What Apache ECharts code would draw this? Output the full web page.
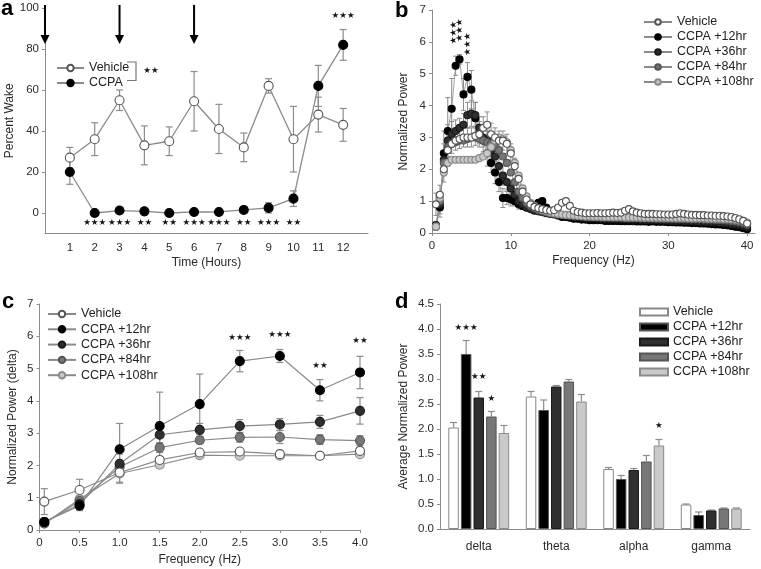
<!DOCTYPE html>
<html><head><meta charset="utf-8">
<script src="https://cdn.jsdelivr.net/npm/echarts@6/dist/echarts.min.js"></script>
<style>html,body{margin:0;padding:0;background:#fff}#c{width:761px;height:569px}</style>
</head><body><div id="c"></div>
<script>
// ---------- Panel a: Percent wake ----------
const hours = [1,2,3,4,5,6,7,8,9,10,11,12];
const vehicleWake    = [27,36,55,33,35,54.5,41,32,62,36,48,43];
const vehicleWakeErr = [5,8,5,9.5,7,14.5,12,7,3.5,16,8.5,8];
const ccpaWake       = [20,0,1.2,0.8,0,0.5,0.5,1.5,2.5,7,62,82];
const ccpaWakeErr    = [6,0.5,1,0.5,0.5,0.5,0.5,1.5,2.5,3.8,10,7.5];
const wakeStars      = ['','★★★','★★★','★★','★★','★★★','★★★','★★','★★★','★★','','★★★'];
const wakeStarY      = [null,-5,-5,-5,-5,-5,-5,-5,-5,-5,null,96];
const injectionHours = [0,3,6];
const wakeTicks = [0,20,40,60,80,100];

// ---------- Panel b: spectra ----------
const freqB = [
 0.5,1,1.5,2,2.5,3,3.5,4,4.5,5, 5.5,6,6.5,7,7.5,8,8.5,9,9.5,10,
 10.5,11,11.5,12,12.5,13,13.5,14,14.5,15, 15.5,16,16.5,17,17.5,18,18.5,19,19.5,20,
 20.5,21,21.5,22,22.5,23,23.5,24,24.5,25, 25.5,26,26.5,27,27.5,28,28.5,29,29.5,30,
 30.5,31,31.5,32,32.5,33,33.5,34,34.5,35, 35.5,36,36.5,37,37.5,38,38.5,39,39.5,40];
const specVehicle = [
 0.9,1.2,2.0,2.6,2.8,2.9,2.95,3.0,3.0,3.0, 3.05,3.1,3.3,3.4,3.1,3.0,2.9,2.9,2.8,2.5,
 2.1,1.7,1.3,1.05,0.9,0.82,0.78,0.75,0.72,0.7, 0.72,0.8,0.95,1.0,0.85,0.7,0.66,0.64,0.62,0.62,
 0.62,0.63,0.62,0.62,0.63,0.64,0.63,0.64,0.7,0.75, 0.68,0.64,0.62,0.6,0.6,0.6,0.59,0.59,0.58,0.58,
 0.58,0.6,0.62,0.6,0.58,0.57,0.57,0.56,0.56,0.55, 0.55,0.54,0.54,0.53,0.52,0.5,0.47,0.43,0.38,0.3];
const spec12 = [
 0.2,0.8,2.5,3.2,3.9,5.25,5.45,4.35,4.9,4.5, 3.6,3.1,2.9,2.5,2.2,1.9,1.6,1.1,1.1,1.05,
 1.0,0.9,0.85,0.8,0.8,0.85,0.95,1.0,0.8,0.65, 0.6,0.55,0.5,0.5,0.48,0.45,0.45,0.42,0.42,0.4,
 0.4,0.4,0.4,0.38,0.38,0.38,0.38,0.37,0.37,0.37, 0.37,0.36,0.36,0.36,0.35,0.36,0.35,0.35,0.35,0.34,
 0.34,0.33,0.33,0.32,0.32,0.31,0.31,0.3,0.3,0.29, 0.28,0.27,0.27,0.25,0.24,0.22,0.2,0.18,0.15,0.12];
const spec36 = [
 0.25,0.9,2.3,2.9,3.1,3.2,3.3,3.4,3.7,3.75, 3.7,3.3,3.0,2.9,2.6,2.4,2.1,1.8,1.6,1.4,
 1.2,1.0,0.9,0.8,0.75,0.7,0.68,0.65,0.62,0.6, 0.58,0.56,0.55,0.54,0.52,0.5,0.5,0.48,0.47,0.46,
 0.46,0.45,0.45,0.44,0.44,0.44,0.43,0.43,0.43,0.42, 0.42,0.42,0.41,0.41,0.41,0.4,0.4,0.4,0.39,0.39,
 0.38,0.38,0.38,0.37,0.37,0.36,0.36,0.35,0.35,0.34, 0.33,0.33,0.32,0.31,0.3,0.28,0.27,0.25,0.22,0.18];
const spec84 = [
 0.2,1.0,2.2,2.7,2.8,2.85,2.9,2.9,2.95,3.0, 3.0,2.95,2.9,2.85,2.8,2.7,2.6,2.4,2.2,1.9,
 1.6,1.3,1.1,0.95,0.85,0.78,0.72,0.68,0.65,0.62, 0.6,0.58,0.57,0.56,0.55,0.54,0.53,0.52,0.51,0.5,
 0.5,0.5,0.49,0.49,0.49,0.48,0.48,0.48,0.47,0.47, 0.47,0.47,0.46,0.46,0.46,0.46,0.45,0.45,0.45,0.45,
 0.45,0.44,0.44,0.44,0.44,0.43,0.43,0.43,0.42,0.42, 0.42,0.41,0.41,0.4,0.39,0.38,0.36,0.34,0.31,0.27];
const spec108 = [
 0.2,1.1,1.9,2.2,2.3,2.3,2.3,2.3,2.3,2.3, 2.3,2.35,2.4,2.5,2.7,2.9,3.0,2.95,2.85,2.6,
 2.2,1.8,1.4,1.15,0.95,0.85,0.78,0.72,0.68,0.64, 0.62,0.6,0.58,0.57,0.56,0.55,0.54,0.53,0.52,0.52,
 0.51,0.51,0.51,0.5,0.5,0.5,0.5,0.5,0.49,0.49, 0.49,0.49,0.49,0.48,0.48,0.48,0.48,0.48,0.48,0.47,
 0.47,0.47,0.47,0.47,0.46,0.46,0.46,0.46,0.46,0.45, 0.45,0.45,0.45,0.44,0.44,0.43,0.42,0.4,0.38,0.33];
// SEM for the first 24 bins (0.5–12 Hz)
const specVehicleErr = [0.35,0.3,0.4,0.4,0.3,0.3,0.3,0.3,0.3,0.3,0.3,0.3,0.35,0.4,0.35,0.3,0.3,0.3,0.3,0.3,0.25,0.2,0.15,0.1];
const spec12Err = [0.1,0.3,0.7,1.05,0.95,0.3,0.15,0.5,0.45,0.6,0.5,0.4,0.35,0.4,0.3,0.35,0.3,0.3,0.2,0.2,0.15,0.15,0.1,0.1];
const spec36Err = [0.1,0.3,0.5,0.5,0.4,0.35,0.3,0.35,0.4,0.4,0.4,0.35,0.3,0.3,0.3,0.25,0.3,0.3,0.25,0.2,0.2,0.15,0.1,0.1];
const specStars = [[2.7,6.29,'★★★'],[3.5,6.37,'★★★'],[4.55,5.93,'★★★']];

// ---------- Panel c: delta band ----------
const freqC   = [0.06,0.5,1,1.5,2,2.5,3,3.5,4];
const cVehicle = [0.88,1.24,1.78,2.17,2.4,2.43,2.35,2.3,2.45];
const cVehicleErr = [0.4,0.33,0.3,0.1,0.08,0.08,0.1,0.08,0.08];
const c12  = [0.25,0.75,2.5,3.22,3.9,5.23,5.39,4.33,4.88];
const c12Err = [0.05,0.15,0.8,1.05,0.93,0.33,0.2,0.33,0.5];
const c36  = [0.25,0.8,2.05,2.95,3.1,3.22,3.27,3.35,3.69];
const c36Err = [0.05,0.15,0.3,0.25,0.2,0.2,0.18,0.2,0.41];
const c84  = [0.2,0.9,1.95,2.55,2.78,2.87,2.88,2.8,2.77];
const c84Err = [0.05,0.15,0.2,0.15,0.1,0.15,0.2,0.15,0.15];
const c108 = [0.2,0.95,1.75,2.02,2.32,2.3,2.3,2.3,2.35];
const c108Err = [0.05,0.1,0.3,0.1,0.08,0.08,0.08,0.08,0.08];
const cStars = [[2.5,5.95,'★★★'],[3.0,6.06,'★★★'],[3.5,5.08,'★★'],[4.0,5.86,'★★']];

// ---------- Panel d: band averages ----------
const bands = ['delta','theta','alpha','gamma'];
const dVehicle = [2.03,2.65,1.2,0.49];   const dVehicleErr = [0.1,0.1,0.03,0.01];
const d12      = [3.5,2.38,1.0,0.28];    const d12Err = [0.27,0.2,0.07,0.06];
const d36      = [2.63,2.85,1.18,0.37];  const d36Err = [0.12,0.02,0.03,0.01];
const d84      = [2.25,2.95,1.35,0.41];  const d84Err = [0.1,0.04,0.12,0.01];
const d108     = [1.92,2.55,1.67,0.41];  const d108Err = [0.15,0.14,0.12,0.01];
// [bandIndex, barIndex, y, text]
const dStars = [[0,1,4.02,'★★★'],[0,2,3.05,'★★'],[0,3,2.6,'★'],[2,4,2.07,'★']];

const groupNames = ['Vehicle','CCPA +12hr','CCPA +36hr','CCPA +84hr','CCPA +108hr'];

// ---------- helpers ----------
const FONT = '"Liberation Sans", Arial, sans-serif';
const AX = '#8c8c8c', TXT = '#2b2b2b', ERR = '#8c8c8c';
const STARFONT = '8.6px "DejaVu Sans"';
const zip = (xs, ys) => xs.map((x,i)=>[x, ys[i]]);

function errSeries(g, xs, ys, es, opt) {
  opt = opt || {};
  const data = es.map((e,i)=>[xs[i], opt.upOnly ? ys[i] : ys[i]-e, ys[i]+e]);
  return {type:'custom', xAxisIndex:g, yAxisIndex:g, data, z: opt.z || 1, silent:true,
    renderItem(params, api){
      const x = api.value(0);
      const a = api.coord([x, api.value(1)]), b = api.coord([x, api.value(2)]);
      const cx = a[0] + (opt.offset || 0), w = opt.cap || 3.5;
      const st = {stroke: ERR, lineWidth: opt.lw || 1.2};
      const ch = [
        {type:'line', shape:{x1:cx,y1:a[1],x2:cx,y2:b[1]}, style:st},
        {type:'line', shape:{x1:cx-w,y1:b[1],x2:cx+w,y2:b[1]}, style:st}];
      if (!opt.upOnly) ch.push({type:'line', shape:{x1:cx-w,y1:a[1],x2:cx+w,y2:a[1]}, style:st});
      return {type:'group', children:ch};
    }};
}
function starSeries(g, pts, opt) {
  opt = opt || {};
  return {type:'custom', xAxisIndex:g, yAxisIndex:g, data: pts.map(p=>[p[0],p[1]]), z:6, silent:true,
    renderItem(params, api){
      const p = api.coord([api.value(0), api.value(1)]);
      const dx = opt.offsets ? opt.offsets[params.dataIndex] : 0;
      return {type:'text', x:p[0]+dx, y:p[1], rotation: opt.rotate ? Math.PI/2 : 0,
        style:{text: pts[params.dataIndex][2], fill:'#111', font:STARFONT, align:'center', verticalAlign:'middle'}};
    }};
}
function lineSeries(name, g, xs, ys, fill, border, size, lw, z) {
  return {name, type:'line', xAxisIndex:g, yAxisIndex:g, data: zip(xs, ys),
    symbol:'circle', symbolSize:size, showSymbol:true,
    itemStyle:{color:fill, borderColor:border, borderWidth:1.1},
    lineStyle:{color:'#8a8a8a', width:lw}, emphasis:{disabled:true}, z: z||3, animation:false};
}
function valAxis(g, extra) {
  return Object.assign({gridIndex:g, type:'value', splitLine:{show:false},
    axisLine:{show:true, onZero:false, lineStyle:{color:AX, width:1}},
    axisTick:{show:true, length:3, lineStyle:{color:AX}},
    axisLabel:{color:TXT, fontSize:11.5, fontFamily:FONT, margin:6},
    nameTextStyle:{color:TXT, fontSize:12, fontFamily:FONT}}, extra);
}

// bar layout for panel d
const BW = 10.5, BG = 0.2, NB = 5;
const totalW = NB*BW + (NB-1)*BG*BW;
const barOff = i => -totalW/2 + i*BW*(1+BG) + BW/2;

const fills = ['#ffffff','#000000','#2f2f2f','#777777','#c9c9c9'];
const borders = ['#666666','#000000','#1a1a1a','#555555','#8a8a8a'];
const dSeriesVals = [dVehicle,d12,d36,d84,d108];
const dSeriesErr = [dVehicleErr,d12Err,d36Err,d84Err,d108Err];
const specVals = [specVehicle,spec12,spec36,spec84,spec108];
const cVals = [cVehicle,c12,c36,c84,c108];
const cErrs = [cVehicleErr,c12Err,c36Err,c84Err,c108Err];

const series = [];
// a
series.push(errSeries(0, hours, vehicleWake, vehicleWakeErr));
series.push(errSeries(0, hours, ccpaWake, ccpaWakeErr));
series.push(lineSeries('a::Vehicle', 0, hours, vehicleWake, '#fff', '#555', 9, 1.3, 4));
series.push(lineSeries('a::CCPA', 0, hours, ccpaWake, '#000', '#000', 9, 1.3, 3));
series.push(starSeries(0, hours.map((h,i)=>[h, wakeStarY[i], wakeStars[i]]).filter(p=>p[2])));
series.push({type:'custom', xAxisIndex:0, yAxisIndex:0, data: injectionHours.map(h=>[h]), z:7, silent:true,
  renderItem(params, api){
    const h = api.value(0);
    const top = api.coord([h, 101.5]), tip = api.coord([h, 82.5]);
    return {type:'group', children:[
      {type:'line', shape:{x1:top[0],y1:top[1],x2:tip[0],y2:tip[1]-7}, style:{stroke:'#000', lineWidth:2}},
      {type:'polygon', shape:{points:[[tip[0]-4.5,tip[1]-9],[tip[0]+4.5,tip[1]-9],[tip[0],tip[1]]]}, style:{fill:'#000'}}]};
  }});
// b
const order = [1,2,3,4,0];
order.forEach(k=>{
  series.push(lineSeries('b::'+groupNames[k], 1, freqB, specVals[k], fills[k], k===0?'#555':borders[k], 7, 0.8, 3));
});
series.push(errSeries(1, freqB, spec12, spec12Err, {cap:2.5, lw:1}));
series.push(errSeries(1, freqB, spec36, spec36Err, {cap:2.5, lw:1}));
series.push(errSeries(1, freqB, specVehicle, specVehicleErr, {cap:2.5, lw:1}));
series.push(starSeries(1, specStars, {rotate:true}));
// c
[0,1,2,3,4].forEach(k=>{
  series.push(errSeries(2, freqC, cVals[k], cErrs[k]));
});
[4,3,2,1,0].forEach(k=>{
  series.push(lineSeries('c::'+groupNames[k], 2, freqC, cVals[k], fills[k], k===0?'#555':borders[k], 9, 1.2, 3));
});
series.push(starSeries(2, cStars));
// d
[0,1,2,3,4].forEach(k=>{
  series.push({name:'d::'+groupNames[k], type:'bar', xAxisIndex:3, yAxisIndex:3, data:dSeriesVals[k],
    barWidth:BW, barGap:(BG*100)+'%', itemStyle:{color:fills[k], borderColor: k===0?'#888':borders[k]==='#000000'?'#555':borders[k], borderWidth:1},
    emphasis:{disabled:true}, z:2, animation:false});
  series.push(errSeries(3, [0,1,2,3], dSeriesVals[k], dSeriesErr[k], {upOnly:true, offset:barOff(k), cap:3.5}));
});
series.push(starSeries(3, dStars.map(s=>[s[0], s[2], s[3]]), {offsets: dStars.map(s=>barOff(s[1]))}));

const legendText = {color:'#222', fontSize:12.5, fontFamily:FONT, lineHeight:14};
const fmt = n => n.split('::')[1];

const option = {
  animation:false,
  textStyle:{fontFamily:FONT},
  grid:[
    {left:45, top:8, width:323, height:225.5},
    {left:432, top:10, width:323, height:223},
    {left:39.5, top:304, width:320.5, height:226},
    {left:440, top:304, width:310, height:225}
  ],
  xAxis:[
    valAxis(0, {min:0, max:13, axisTick:{show:false}, axisLabel:{color:TXT, fontSize:11.5, fontFamily:FONT, margin:8, customValues:hours},
      name:'Time (Hours)', nameLocation:'middle', nameGap:23}),
    valAxis(1, {min:0, max:41, axisTick:{show:true, length:3, lineStyle:{color:AX}, customValues:[0,10,20,30,40]},
      axisLabel:{color:TXT, fontSize:11.5, fontFamily:FONT, margin:7, customValues:[0,10,20,30,40]},
      name:'Frequency (Hz)', nameLocation:'middle', nameGap:22}),
    valAxis(2, {min:0, max:4, interval:0.5, axisLabel:{color:TXT, fontSize:11.5, fontFamily:FONT, margin:7, formatter:v=>v===0?'0':v.toFixed(1)},
      name:'Frequency (Hz)', nameLocation:'middle', nameGap:24}),
    {gridIndex:3, type:'category', data:bands, axisTick:{show:false},
      axisLine:{show:true, lineStyle:{color:AX}}, axisLabel:{color:TXT, fontSize:12, fontFamily:FONT, margin:12}}
  ],
  yAxis:[
    valAxis(0, {min:-10, max:100, axisTick:{show:true, length:3, lineStyle:{color:AX}, customValues:wakeTicks},
      axisLabel:{color:TXT, fontSize:11.5, fontFamily:FONT, margin:6, customValues:wakeTicks},
      name:'Percent Wake', nameLocation:'middle', nameGap:27, nameRotate:90}),
    valAxis(1, {min:0, max:7, interval:1, name:'Normalized Power', nameLocation:'middle', nameGap:22, nameRotate:90}),
    valAxis(2, {min:0, max:7, interval:1, name:'Normalized Power (delta)', nameLocation:'middle', nameGap:21, nameRotate:90}),
    valAxis(3, {min:0, max:4.5, interval:0.5, axisLabel:{color:TXT, fontSize:11.5, fontFamily:FONT, margin:6, formatter:v=>v.toFixed(1)},
      name:'Average Normalized Power', nameLocation:'middle', nameGap:30, nameRotate:90})
  ],
  legend:[
    {left:51, top:56, orient:'vertical', itemGap:1, itemWidth:27, itemHeight:8, textStyle:legendText, formatter:fmt,
      data:['a::Vehicle','a::CCPA'], selectedMode:false},
    {left:638, top:10, orient:'vertical', itemGap:1, itemWidth:28, itemHeight:7, textStyle:legendText, formatter:fmt,
      data:groupNames.map(n=>'b::'+n), selectedMode:false},
    {left:42, top:302, orient:'vertical', itemGap:1.3, itemWidth:28, itemHeight:8, textStyle:legendText, formatter:fmt,
      data:groupNames.map(n=>'c::'+n), selectedMode:false},
    {left:634, top:300, orient:'vertical', itemGap:1, itemWidth:28, itemHeight:7, icon:'rect', textStyle:legendText, formatter:fmt,
      data:groupNames.map(n=>'d::'+n), selectedMode:false}
  ],
  graphic:[
    {type:'text', left:1, top:-2, style:{text:'a', font:'bold 22px "Liberation Sans", Arial', fill:'#000'}},
    {type:'text', left:395, top:0, style:{text:'b', font:'bold 22px "Liberation Sans", Arial', fill:'#000'}},
    {type:'text', left:2, top:291, style:{text:'c', font:'bold 22px "Liberation Sans", Arial', fill:'#000'}},
    {type:'text', left:395, top:291, style:{text:'d', font:'bold 22px "Liberation Sans", Arial', fill:'#000'}},
    {type:'polyline', shape:{points:[[127,62],[136,62],[136,80.5],[127,80.5]]}, style:{stroke:'#777', lineWidth:1.2, fill:null}},
    {type:'text', x:151, y:71, style:{text:'★★', font:STARFONT, fill:'#111', align:'center', verticalAlign:'middle'}}
  ],
  series
};
const chart = echarts.init(document.getElementById('c'), null, {renderer:'canvas'});
chart.setOption(option);
</script>
</body></html>
